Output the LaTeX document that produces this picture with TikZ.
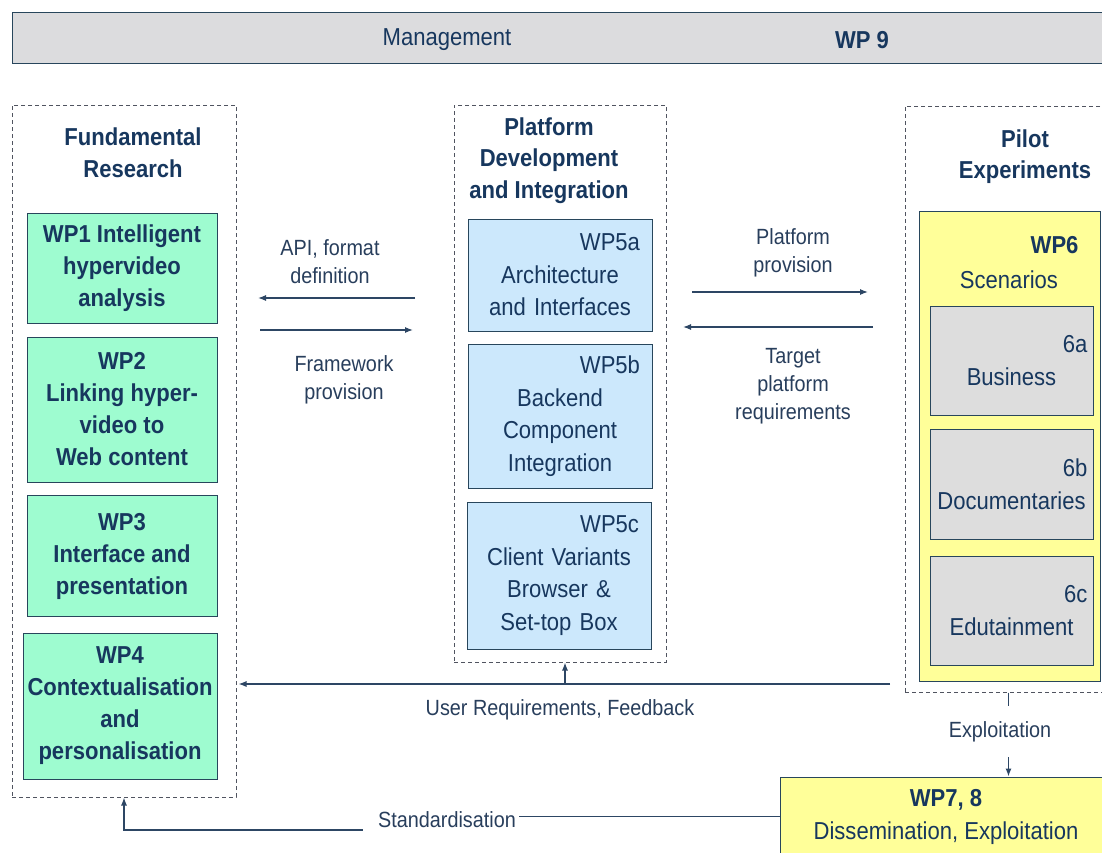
\documentclass[tikz,border=0pt]{standalone}
\usepackage{fontspec}
\setmainfont{Liberation Sans}[FakeStretch=0.9]
\usetikzlibrary{arrows.meta}

\definecolor{cText}{RGB}{23,55,94}
\definecolor{cLabel}{RGB}{40,62,92}
\definecolor{cLine}{RGB}{40,70,92}
\definecolor{cDash}{RGB}{80,84,96}
\definecolor{cArrow}{RGB}{45,70,100}
\definecolor{cMgmt}{RGB}{220,220,222}
\definecolor{cGreen}{RGB}{158,252,208}
\definecolor{cBlue}{RGB}{204,232,252}
\definecolor{cYellow}{RGB}{255,255,153}
\definecolor{cGrey}{RGB}{221,221,221}

\begin{document}
\begin{tikzpicture}[x=1pt,y=-1pt,
  wpbox/.style={draw=cLine,line width=1pt,inner sep=0pt,align=center,text=cText},
  greenbox/.style={wpbox,fill=cGreen,font=\bfseries\fontsize{24.5}{32}\selectfont,minimum width=190pt},
  bluebox/.style={wpbox,fill=cBlue,font=\fontsize{24.5}{32.5}\selectfont,text width=160pt,minimum width=184pt},
  greybox/.style={wpbox,fill=cGrey,font=\fontsize{24.5}{33}\selectfont,text width=152pt,minimum width=163pt},
  yellowbox/.style={wpbox,fill=cYellow},
  area/.style={draw=cDash,line width=1pt,dash pattern=on 4pt off 3pt,inner sep=0pt},
  title/.style={align=center,text=cText,font=\bfseries\fontsize{24.5}{31.5}\selectfont},
  lbl/.style={align=center,text=cLabel,font=\fontsize{22}{28}\selectfont},
  flow/.style={draw=cArrow,line width=1.2pt,-{Latex[length=8pt,width=6pt]}},
  link/.style={draw=cArrow,line width=1.2pt}]
\useasboundingbox (0,0) rectangle (1102,852);
\clip (0,0) rectangle (1102,852);
\fill[white] (0,0) rectangle (1102,852);

% management bar
\node[wpbox,fill=cMgmt,minimum width=1100pt,minimum height=51pt] (mgmt) at (562,37.5) {};
\node[text=cText,font=\fontsize{24.5}{26}\selectfont] (mgmtlbl) at (447,40) {Management};
\node[text=cText,font=\bfseries\fontsize{24.5}{26}\selectfont] (wp9) at (862,40) {WP 9};

% the three areas
\node[area,minimum width=224pt,minimum height=692pt] (fund) at (124,451) {};
\node[area,minimum width=212pt,minimum height=557pt] (plat) at (560,383.5) {};
\node[area,minimum width=207pt,minimum height=586pt] (pilot) at (1008.5,399) {};

\node[title] (fundttl) at (133,152.5) {Fundamental\\Research};
\node[title] (platttl) at (549,160.5) {Platform\\Development\\and Integration};
\node[title] (pilotttl) at (1025,156.5) {Pilot\\Experiments};

% fundamental research
\node[greenbox,minimum height=110pt] (wp1) at (122,268) {WP1 Intelligent\\hypervideo\\analysis};
\node[greenbox,minimum height=145pt] (wp2) at (122,409.5) {WP2\\Linking hyper-\\video to\\Web content};
\node[greenbox,minimum height=121pt] (wp3) at (122,556) {WP3\\Interface and\\presentation};
\node[greenbox,minimum width=194pt,minimum height=146pt] (wp4) at (120,706) {WP4\\Contextualisation\\and\\personalisation};

% platform
\node[bluebox,minimum height=112pt] (wp5a) at (560,275) {\hspace*{\fill}WP5a\\Architecture\\and Interfaces};
\node[bluebox,minimum height=144pt] (wp5b) at (560,416) {\hspace*{\fill}WP5b\\Backend\\Component\\Integration};
\node[bluebox,minimum height=147pt] (wp5c) at (559,575.5) {\hspace*{\fill}WP5c\\Client Variants\\Browser \&\\Set-top Box};

% pilots
\node[yellowbox,minimum width=181pt,minimum height=470pt] (wp6) at (1009.5,446) {};
\node[anchor=east,text=cText,font=\bfseries\fontsize{24.5}{26}\selectfont] (wp6id) at (1082,245) {WP6};
\node[text=cText,font=\fontsize{24.5}{26}\selectfont] (wp6ttl) at (1009,280) {Scenarios};
\node[greybox,minimum height=109pt] (s6a) at (1011.5,360.5) {\hspace*{\fill}6a\hspace*{18pt}\\Business};
\node[greybox,minimum height=110pt] (s6b) at (1011.5,484) {\hspace*{\fill}6b\hspace*{18pt}\\Documentaries};
\node[greybox,minimum height=109pt] (s6c) at (1011.5,610.5) {\hspace*{\fill}6c\hspace*{18pt}\\Edutainment};

\node[yellowbox,minimum width=332pt,minimum height=79pt,font=\fontsize{24.5}{33}\selectfont] (wp78) at (946,816.5) {\textbf{WP7, 8}\\Dissemination, Exploitation};

% labels
\node[lbl] (apilbl) at (330,262) {API, format\\definition};
\node[lbl] (fwlbl) at (344,380) {Framework\\provision};
\node[lbl] (pplbl) at (793,253) {Platform\\provision};
\node[lbl] (tplbl) at (793,386) {Target\\platform\\requirements};
\node[lbl] (urlbl) at (560,710) {User Requirements, Feedback};
\node[lbl] (explbl) at (1000,732) {Exploitation};
\node[lbl] (stdlbl) at (447,820) {Standardisation};

% arrows
\coordinate (api-a) at (415,298);
\coordinate (api-b) at (258,298);
\coordinate (fw-a) at (260,330);
\coordinate (fw-b) at (413,330);
\coordinate (pp-a) at (692,292);
\coordinate (pp-b) at (868,292);
\coordinate (tp-a) at (873,327);
\coordinate (tp-b) at (683,327);
\draw[flow] (api-a) -- (api-b);
\draw[flow] (fw-a) -- (fw-b);
\draw[flow] (pp-a) -- (pp-b);
\draw[flow] (tp-a) -- (tp-b);

\coordinate (ur-a) at (890,684);
\coordinate (ur-j) at (565,684);
\draw[flow,shorten >=2pt] (ur-a) -- (ur-a -| fund.east);
\draw[flow] (ur-j) -- (ur-j |- plat.south);

\draw[link] (pilot.south) -- ++(0,13);
\coordinate (ex-a) at (1008.5,757);
\draw[flow] (ex-a) -- (ex-a |- wp78.north);

\draw[link] (wp78.west) -- (wp78.west -| stdlbl.east);
\draw[flow] ([xshift=-12pt,yshift=-10pt]stdlbl.west) -| (fund.south);
\end{tikzpicture}
\end{document}
